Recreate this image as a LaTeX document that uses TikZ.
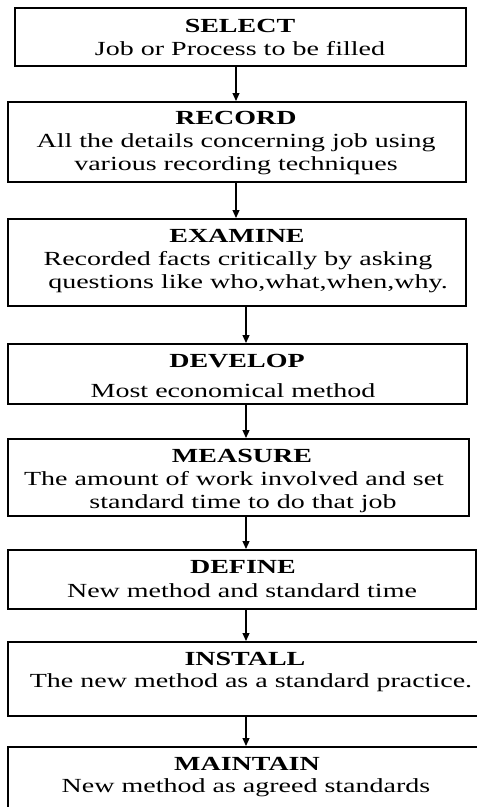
\documentclass[tikz,border=0pt]{standalone}
\usepackage{fontspec}
\setmainfont{Liberation Serif}[FakeStretch=1.4]
\usetikzlibrary{arrows.meta}
\tikzset{
  box/.style={draw=black, line width=1.5pt, rectangle, anchor=north west, inner sep=0pt},
  ttl/.style={anchor=base, inner sep=0pt, font=\fontsize{20}{23}\selectfont\bfseries, text=black},
  txt/.style={anchor=base, inner sep=0pt, font=\fontsize{20}{23}\selectfont, text=black},
  arr/.style={draw=black, line width=1.2pt, -{Triangle[length=8pt,width=7pt]}}
}
\begin{document}
\begin{tikzpicture}[x=1pt,y=-1pt]
\useasboundingbox (0,0) rectangle (477,807);
\fill[white] (0,0) rectangle (477,807);
% boxes
\node[box, minimum width=451pt, minimum height=58pt] (select)   at (14,7)  {};
\node[box, minimum width=458pt, minimum height=80pt] (record)   at (7,101) {};
\node[box, minimum width=458pt, minimum height=87pt] (examine)  at (7,218) {};
\node[box, minimum width=459pt, minimum height=60pt] (develop)  at (7,343) {};
\node[box, minimum width=461pt, minimum height=77pt] (measure)  at (7,438) {};
\node[box, minimum width=468pt, minimum height=59pt] (define)   at (7,549) {};
\node[box, minimum width=480pt, minimum height=74pt] (install)  at (7,641) {};
\node[box, minimum width=480pt, minimum height=70pt] (maintain) at (7,746) {};
% texts
\node[ttl] (t1) at (240,32) {SELECT};
\node[txt] (b1) at (240,55) {Job or Process to be filled};
\node[ttl] (t2) at (236,124) {RECORD};
\node[txt] (b2a) at (236,147) {All the details concerning job using};
\node[txt] (b2b) at (236,170) {various recording techniques};
\node[ttl] (t3) at (237,242) {EXAMINE};
\node[txt] (b3a) at (238,265) {Recorded facts critically by asking};
\node[txt] (b3b) at (248,288) {questions like who,what,when,why.};
\node[ttl] (t4) at (237,367) {DEVELOP};
\node[txt] (b4) at (233,397) {Most economical method};
\node[ttl] (t5) at (242,462) {MEASURE};
\node[txt] (b5a) at (234,485) {The amount of work involved and set};
\node[txt] (b5b) at (243,508) {standard time to do that job};
\node[ttl] (t6) at (243,573) {DEFINE};
\node[txt] (b6) at (242,597) {New method and standard time};
\node[ttl] (t7) at (245,665) {INSTALL};
\node[txt] (b7) at (251,687) {The new method as a standard practice.};
\node[ttl] (t8) at (247,770) {MAINTAIN};
\node[txt] (b8) at (246,792) {New method as agreed standards};
% arrows
\draw[arr] (select.south -| 236,0) -- (record.north -| 236,0);
\draw[arr] (record.south -| 236,0) -- (examine.north -| 236,0);
\draw[arr] (examine.south -| 246,0) -- (develop.north -| 246,0);
\draw[arr] (develop.south -| 246,0) -- (measure.north -| 246,0);
\draw[arr] (measure.south -| 246,0) -- (define.north -| 246,0);
\draw[arr] (define.south -| 246,0) -- (install.north -| 246,0);
\draw[arr] (install.south -| 246,0) -- (maintain.north -| 246,0);
\end{tikzpicture}
\end{document}
